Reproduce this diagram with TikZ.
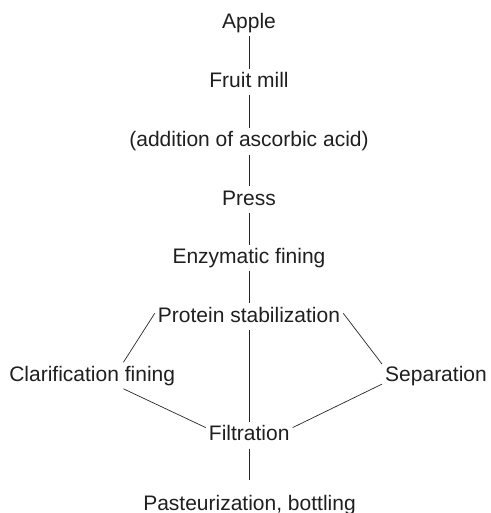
\documentclass[tikz,border=0pt]{standalone}
\usepackage{fontspec}
\setmainfont{Liberation Sans}
\usepackage{xcolor}

\begin{document}
\begin{tikzpicture}[
  x=1pt, y=-1pt,
  % Node Styles
  stepnode/.style={anchor=base, text=black!88, inner xsep=3pt, inner ysep=3pt, text height=15.5pt, text depth=4.6pt, font=\fontsize{21}{25}\selectfont},
  % Line Styles
  link/.style={line width=0.7pt, black!85}
]
\useasboundingbox (0,0) rectangle (490,513);

% Process chain: apple juice

\node[stepnode] (apple) at (249,28.3) {Apple};
\node[stepnode] (mill) at (249,87.3) {Fruit mill};
\node[stepnode] (ascorbic) at (249,146.7) {(addition of ascorbic acid)};
\node[stepnode] (press) at (249,205) {Press};
\node[stepnode] (enzyme) at (249,263.3) {Enzymatic fining};
\node[stepnode] (protein) at (249,322) {Protein stabilization};
\node[stepnode] (clarify) at (92.2,381) {Clarification fining};
\node[stepnode] (separate) at (436,381) {Separation};
\node[stepnode] (filter) at (249.2,440.7) {Filtration};
\node[stepnode] (bottle) at (249.5,510) {Pasteurization, bottling};

\draw[link] (apple) -- (mill);
\draw[link] (mill) -- (ascorbic);
\draw[link] (ascorbic) -- (press);
\draw[link] (press) -- (enzyme);
\draw[link] (enzyme.south) -- (enzyme.south |- protein.north);
\draw[link] (protein.south -| filter.north) -- (filter.north);
\draw[link] (protein.178) -- (clarify.23);
\draw[link] (clarify.-23) -- (filter.170);
\draw[link] (protein.2) -- (separate.168);
\draw[link] (separate.189) -- (filter.10);
\draw[link] (filter.south) -- ++(0,31);

\end{tikzpicture}
\end{document}
